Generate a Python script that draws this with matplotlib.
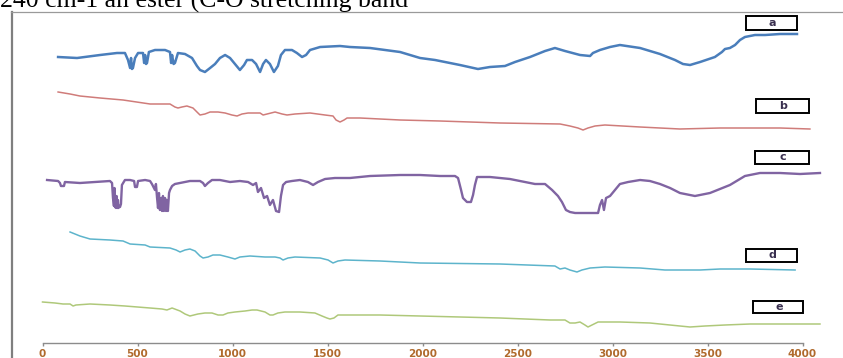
import matplotlib
matplotlib.use("Agg")
import matplotlib.pyplot as plt
from matplotlib.patches import Rectangle
from matplotlib.lines import Line2D

W, H = 843, 358

# ---------------- data (wavenumber cm-1, transmittance a.u. with offsets) ----------------
wn_a = [82, 182, 303, 392, 434, 450, 461, 466, 471, 476, 487, 503, 529, 535, 540, 545, 550, 560, 592, 645,
        671, 677, 682, 690, 697, 713,
        750, 787, 813, 829, 855, 882, 908, 934, 961, 987, 1013, 1039, 1061, 1076, 1103, 1124, 1145, 1161,
        1176, 1197, 1218, 1239, 1255, 1276, 1313, 1339, 1366, 1387, 1408, 1461, 1566, 1618, 1724, 1882,
        1987, 2066, 2197, 2292, 2355, 2434, 2487, 2566, 2645, 2697, 2750, 2829, 2882, 2897, 2934, 2987,
        3039, 3145, 3250, 3329, 3371, 3408, 3461, 3539, 3576, 3592, 3618, 3645, 3671, 3697, 3750, 3803,
        3882, 3971]
t_a = [301, 300, 303, 305, 305, 298, 290, 300, 289, 290, 300, 305, 305, 295, 303, 294, 295, 306, 308, 308,
       306, 295, 303, 294, 295, 305,
       304, 300, 292, 288, 286, 290, 294, 300, 303, 300, 294, 288, 293, 298, 298, 294, 286, 294,
       298, 294, 286, 292, 303, 308, 308, 305, 301, 303, 308, 311, 312, 311, 310, 306,
       300, 298, 293, 289, 291, 292, 296, 301, 307, 310, 307, 303, 302, 305, 308, 311,
       313, 310, 304, 298, 294, 293, 296, 301, 306, 309, 310, 313, 318, 321, 323, 323,
       324, 324]

wn_b = [82, 145, 197, 303, 424, 566, 671, 697, 713, 734, 760, 792, 813, 829, 855, 882, 924, 961, 997, 1024,
        1050, 1082, 1145, 1161, 1182, 1224, 1261, 1287, 1329, 1408, 1487, 1529, 1545, 1566, 1587, 1603,
        1671, 1882, 2092, 2408, 2724, 2776, 2818, 2845, 2871, 2908, 2960, 3145, 3355, 3566, 3882, 4039]
t_b = [266, 264, 262, 260, 258, 254, 254, 251, 250, 251, 252, 250, 246, 243, 244, 246, 246, 245, 243, 242,
       244, 245, 245, 243, 244, 246, 244, 243, 244, 245, 243, 242, 238, 236, 238, 240,
       240, 238, 237, 235, 234, 232, 230, 228, 230, 232, 233, 231, 229, 230, 230, 229]

wn_c = [24, 82, 92, 97, 113, 118, 197, 276, 355, 366, 371, 376, 379, 382, 387, 390, 394, 397, 400, 403,
        408, 413, 418, 434, 461, 482, 487, 497, 503, 540, 566, 576, 592, 597, 603, 608, 613, 618, 624,
        629, 634, 639, 645, 650, 655, 660, 666, 671, 682, 697, 724, 776, 829,
        845, 855, 871, 892, 934, 987, 1039, 1082, 1108, 1124, 1134, 1150, 1166, 1182, 1197, 1213, 1229,
        1245, 1255, 1266, 1282, 1313, 1355, 1397, 1424, 1450, 1487, 1539, 1618, 1724, 1882, 1987, 2092,
        2171, 2187, 2203, 2213, 2234, 2255, 2266, 2276, 2287, 2355, 2460, 2539, 2592, 2645, 2682, 2713,
        2734, 2755, 2776, 2803, 2924, 2934, 2945, 2955, 2966, 2987, 3013, 3039, 3082, 3145, 3197, 3250,
        3303, 3355, 3434, 3513, 3618, 3697, 3776, 3882, 3987, 4092]
t_c = [178, 177, 175, 172, 172, 176, 175, 176, 177, 175, 160, 152, 170, 151, 150, 162, 150, 158, 150, 152,
       151, 154, 173, 178, 178, 177, 171, 171, 177, 178, 177, 174, 168, 174, 160, 150, 165, 148, 160,
       147, 162, 147, 160, 147, 158, 147, 165, 168, 172, 174, 175, 177, 177,
       175, 172, 175, 178, 178, 176, 177, 176, 173, 175, 166, 170, 160, 162, 153, 158, 147,
       146, 162, 173, 176, 177, 178, 176, 173, 176, 179, 180, 180, 182, 183, 183, 182,
       182, 180, 168, 160, 156, 156, 163, 173, 181, 181, 179, 176, 174, 174, 168, 162,
       156, 148, 146, 145, 145, 153, 158, 148, 160, 162, 168, 174, 176, 178, 177, 174,
       170, 165, 162, 165, 173, 182, 185, 185, 184, 185]

wn_d = [145, 197, 250, 355, 424, 461, 540, 566, 671, 703, 724, 750, 776, 803, 829, 845, 871, 897, 934, 976,
        1013, 1039, 1092, 1171, 1224, 1250, 1266, 1292, 1329, 1461, 1503, 1529, 1555, 1592, 1776, 1987,
        2408, 2697, 2724, 2750, 2776, 2813, 2839, 2882, 2960, 3145, 3276, 3461, 3566, 3724, 3961]
t_d = [126, 122, 119, 118, 117, 114, 113, 111, 110, 108, 106, 108, 109, 107, 102, 100, 101, 103, 103, 101,
       99, 101, 102, 101, 101, 100, 98, 100, 101, 100, 98, 95, 97, 98, 97, 95,
       94, 92, 89, 90, 88, 86, 88, 90, 91, 90, 88, 88, 89, 89, 88]

wn_e = [0, 66, 108, 145, 161, 176, 250, 355, 434, 566, 629, 655, 682, 724, 750, 776, 818, 855, 892, 924,
        950, 976, 1013, 1066, 1103, 1129, 1171, 1197, 1213, 1239, 1276, 1355, 1434, 1471, 1497, 1513,
        1534, 1555, 1592, 1776, 1987, 2408, 2671, 2750, 2776, 2803, 2829, 2855, 2871, 2892, 2924, 3039,
        3197, 3355, 3408, 3487, 3592, 3724, 3882, 4092]
t_e = [56, 55, 54, 54, 52, 53, 54, 53, 52, 50, 49, 48, 50, 47, 44, 42, 44, 45, 45, 43,
       43, 45, 46, 47, 48, 48, 46, 43, 43, 45, 46, 46, 45, 42, 40, 39,
       40, 43, 43, 43, 42, 40, 38, 38, 35, 35, 36, 33, 31, 33, 36, 36,
       35, 32, 31, 32, 33, 34, 34, 34]

labels = ["a", "b", "c", "d", "e"]
xticks = [0, 500, 1000, 1500, 2000, 2500, 3000, 3500, 4000]
header = "240 cm-1 an ester (C-O stretching band"

series = [
    (wn_a, t_a, "#4a7ebb", 1.8, 1.0),
    (wn_b, t_b, "#c0504d", 1.1, 0.75),
    (wn_c, t_c, "#8064a2", 1.7, 1.0),
    (wn_d, t_d, "#4bacc6", 1.1, 0.9),
    (wn_e, t_e, "#9bbb59", 1.1, 0.8),
]

# ---------------- figure ----------------
fig = plt.figure(figsize=(W / 100, H / 100), dpi=100)
fig.patch.set_facecolor("white")
ax = fig.add_axes([0, 0, 1, 1])
ax.set_facecolor("none")

for x, y, col, lw, al in series:
    ax.plot(x, y, color=col, lw=lw, alpha=al, solid_joinstyle="round")

# pixel -> data mapping of the original chart: x0 at 42.5px, 190px per 1000 cm-1
ax.set_xlim(-42.5 / 0.19, (W - 42.5) / 0.19)
ax.set_ylim(0, H)

for s in ["top", "right", "left"]:
    ax.spines[s].set_visible(False)
ax.spines["bottom"].set_position(("data", H - 343))
ax.spines["bottom"].set_bounds(0, 4000)
ax.spines["bottom"].set_color("#8c8c8c")
ax.spines["bottom"].set_linewidth(1.0)
ax.set_yticks([])
ax.set_xticks(xticks)
ax.tick_params(axis="x", direction="out", length=2.5, width=1, color="#8c8c8c",
               pad=1.5, labelsize=7.5, labelcolor="#b06a2c")
for lab in ax.get_xticklabels():
    lab.set_fontweight("bold")

# frame lines of the pasted picture
fig.add_artist(Line2D([11.5 / W, 11.5 / W], [0, 1 - 11.5 / H], transform=fig.transFigure,
                      color="#7f7f7f", lw=1.6))
fig.add_artist(Line2D([11 / W, 1], [1 - 11.5 / H, 1 - 11.5 / H], transform=fig.transFigure,
                      color="#9a9a9a", lw=0.9))

# header text (partially cut off at the top)
fig.text(0 / W, 1 - 8 / H, header, family="Liberation Serif", fontsize=18.5,
         ha="left", va="baseline", color="black")

# legend boxes
boxes = [(746, 16, 51, 14), (756, 99, 53, 14), (755, 151, 54, 13), (746, 249, 51, 13), (753, 301, 50, 12)]
for lab, (bx, by, bw, bh) in zip(labels, boxes):
    fig.add_artist(Rectangle((bx / W, 1 - (by + bh) / H), bw / W, bh / H, transform=fig.transFigure,
                             facecolor="white", edgecolor="black", lw=1.4))
    fig.text((bx + bw / 2 + 1) / W, 1 - (by + bh / 2) / H, lab, ha="center", va="center",
             fontsize=8, fontweight="bold", color="#3a3050")

fig.savefig("out.png", dpi=100)
